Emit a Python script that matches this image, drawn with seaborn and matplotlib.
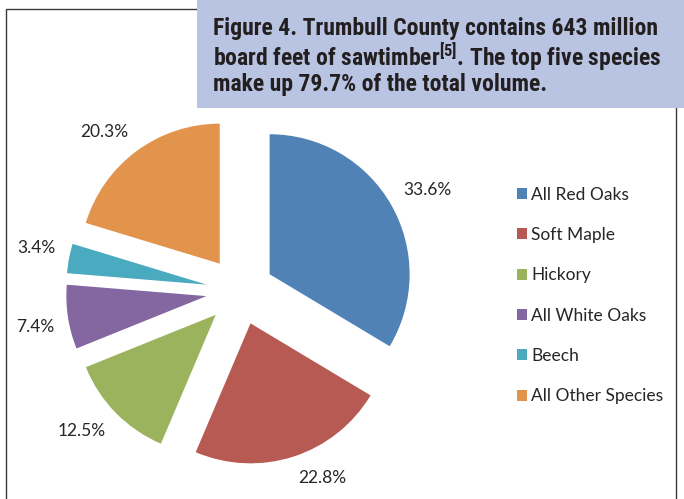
import matplotlib
matplotlib.use('Agg')
import numpy as np
import matplotlib.pyplot as plt
import seaborn as sns
from matplotlib import font_manager
from matplotlib.patches import Rectangle

sns.set_theme(style='white')
plt.rcParams['font.family'] = ['Lato', 'DejaVu Sans']

# narrow bold face for the title, whichever is installed
installed = {f.name for f in font_manager.fontManager.ttflist}
title_font = 'Roboto'
for name in ['Liberation Sans Narrow', 'Roboto Condensed', 'DejaVu Sans Condensed', 'Roboto']:
    if name in installed:
        title_font = name
        break
plt.rcParams['mathtext.fontset'] = 'custom'
plt.rcParams['mathtext.rm'] = title_font + ':bold'
plt.rcParams['mathtext.it'] = title_font + ':bold'
plt.rcParams['mathtext.bf'] = title_font + ':bold'

# data
species = ['All Red Oaks', 'Soft Maple', 'Hickory', 'All White Oaks', 'Beech', 'All Other Species']
shares = [33.6, 22.8, 12.5, 7.4, 3.4, 20.3]
colors = ['#5182b5', '#b85a54', '#9bb35c', '#8466a0', '#4aaabf', '#e3944c']

fig = plt.figure(figsize=(6.84, 4.99), dpi=100)

# outer frame of the chart
fig.patches.append(Rectangle((6 / 684, -0.05), 670 / 684, 0.05 + (499 - 9) / 499,
                             transform=fig.transFigure, fill=False,
                             edgecolor='#3a3a3a', linewidth=1.0, zorder=1))

# pie: centre at (240, 291) px, radius 140 px
px = 140.0  # pixels per data unit
ax = fig.add_axes([40 / 684, 8 / 499, 400 / 684, 400 / 499])
wedges, texts, autotexts = ax.pie(shares, colors=colors, startangle=90, counterclock=False,
                                  explode=[0.243] * len(shares), radius=1,
                                  autopct='%1.1f%%', pctdistance=1.25,
                                  wedgeprops=dict(linewidth=0),
                                  textprops=dict(fontsize=12.5, color='#262626'))
lim = 200 / px
ax.set_xlim(-lim, lim)
ax.set_ylim(-lim, lim)
ax.set_aspect('equal')
ax.axis('off')

fig.legend(wedges, species, loc='upper left', bbox_to_anchor=(501 / 684, (499 - 171) / 499),
           frameon=False, fontsize=12.5, handlelength=0.6, handleheight=0.6,
           handletextpad=0.25, labelspacing=1.40, labelcolor='#262626')

# title box
fig.patches.append(Rectangle((197 / 684, (499 - 108) / 499), 1, 108 / 499,
                             transform=fig.transFigure, facecolor='#b9c4e2',
                             edgecolor='none', zorder=3))
title_lines = ['Figure 4. Trumbull County contains 643 million',
               'board feet of sawtimber$^{[5]}$. The top five species',
               'make up 79.7% of the total volume.']
title_texts = []
for i, line in enumerate(title_lines):
    t = fig.text(213 / 684, (499 - 29 - 28 * i) / 499, line, fontsize=15,
                 family=title_font, fontweight='bold', color='#231f20',
                 va='center', ha='left', zorder=4)
    title_texts.append(t)

fig.canvas.draw()
# fit the first title line to its width in the reference (~444 px)
w = title_texts[0].get_window_extent().width
size = min(15 * 444 / w, 17.5)
for t in title_texts:
    t.set_fontsize(size)

# put the percent labels just outside each slice edge, like Excel's outside-end labels
gap = 14 / px
renderer = fig.canvas.get_renderer()
for wdg, txt in zip(wedges, autotexts):
    mid = np.deg2rad((wdg.theta1 + wdg.theta2) / 2)
    cx, cy = wdg.center
    ux, uy = np.cos(mid), np.sin(mid)
    ext = txt.get_window_extent(renderer)
    hw, hh = ext.width / 2 / px, ext.height / 2 / px
    x = cx + (wdg.r + gap) * ux + np.sign(ux) * hw
    y = cy + (wdg.r + gap) * uy + np.sign(uy) * hh
    txt.set_position((x, y))
    txt.set_ha('center')
    txt.set_va('center')

fig.savefig('out.png', dpi=100)
